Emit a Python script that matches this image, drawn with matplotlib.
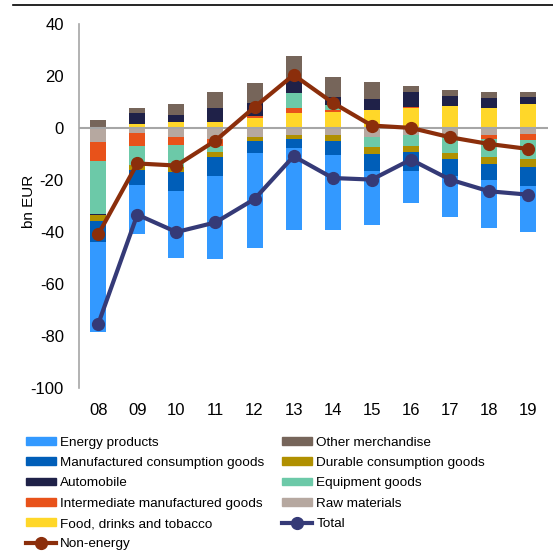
import matplotlib
matplotlib.use("Agg")
import matplotlib.pyplot as plt
from matplotlib.lines import Line2D
from matplotlib.patches import Patch
import numpy as np

plt.rcParams['font.family'] = ['Liberation Sans', 'DejaVu Sans']
plt.rcParams['axes.unicode_minus'] = False

years = ['08', '09', '10', '11', '12', '13', '14', '15', '16', '17', '18', '19']

# contributions, bn EUR
energy = [-34.5, -19.1, -25.5, -32.0, -36.3, -31.5, -28.9, -20.7, -12.3, -15.7, -18.4, -17.8]
other = [3.0, 1.9, 4.1, 6.2, 7.7, 8.6, 7.7, 6.4, 2.5, 2.2, 2.3, 2.0]
manufactured = [-8.0, -5.8, -7.4, -7.1, -4.8, -3.6, -5.4, -6.4, -7.1, -6.7, -6.0, -7.1]
durable = [-2.3, -1.9, -1.9, -1.9, -1.4, -1.5, -2.1, -2.6, -2.5, -2.3, -2.6, -3.2]
automobile = [-0.5, 4.1, 3.0, 5.5, 5.1, 5.6, 2.8, 4.4, 5.5, 3.9, 3.9, 2.6]
equipment = [-20.4, -7.3, -8.6, -2.6, 0.0, 5.8, 2.2, -3.9, -4.0, -6.4, -7.2, -7.1]
intermediate = [-7.4, -4.9, -2.9, -2.5, 0.6, 1.9, 0.5, 0.0, 0.6, 0.0, -1.3, -2.4]
raw = [-5.3, -1.9, -3.5, -4.2, -3.5, -2.6, -2.8, -3.5, -2.8, -3.2, -2.8, -2.3]
food = [0.0, 1.6, 2.2, 2.2, 3.9, 5.8, 6.4, 6.8, 7.7, 8.4, 7.7, 9.3]

total = [-75.4, -33.3, -40.0, -36.3, -27.3, -10.8, -19.2, -19.8, -12.1, -19.8, -24.3, -25.6]
non_energy = [-40.9, -13.6, -14.4, -4.8, 8.1, 20.5, 9.8, 1.0, 0.1, -3.5, -6.1, -8.0]

# stacked from the zero line outwards in this order
series = [
    ("Food, drinks and tobacco", food, '#FFD729'),
    ("Raw materials", raw, '#B6A8A0'),
    ("Intermediate manufactured goods", intermediate, '#E8521A'),
    ("Equipment goods", equipment, '#6CC9A8'),
    ("Automobile", automobile, '#1F2148'),
    ("Durable consumption goods", durable, '#B09000'),
    ("Manufactured consumption goods", manufactured, '#005EB8'),
    ("Other merchandise", other, '#76655A'),
    ("Energy products", energy, '#3399FF'),
]

fig = plt.figure(figsize=(5.53, 5.51), dpi=100)
ax = fig.add_axes([0.143, 0.296, 0.848, 0.66])

x = np.arange(len(years))
pos_base = np.zeros(len(years))
neg_base = np.zeros(len(years))
handles = {}
for name, vals, col in series:
    v = np.array(vals)
    bottom = np.where(v >= 0, pos_base, neg_base)
    ax.bar(x, v, 0.41, bottom=bottom, color=col, zorder=2)
    handles[name] = Patch(color=col)
    pos_base = pos_base + np.clip(v, 0, None)
    neg_base = neg_base + np.clip(v, None, 0)

ax.axhline(0, color='#A6A6A6', lw=1.5, zorder=2.5)

ax.plot(x, total, color='#353A77', lw=3, marker='o', ms=8.5, zorder=3)
ax.plot(x, non_energy, color='#8B2E0B', lw=3, marker='o', ms=8.5, zorder=4)
handles["Total"] = Line2D([], [], color='#353A77', lw=3, marker='o', ms=8.5)
handles["Non-energy"] = Line2D([], [], color='#8B2E0B', lw=3, marker='o', ms=8.5)

ax.set_xlim(-0.49, 11.51)
ax.set_ylim(-100, 40)
ax.set_yticks(range(-100, 41, 20))
ax.set_xticks(x)
ax.set_xticklabels(years)
ax.tick_params(axis='both', length=0, labelsize=12)
ax.tick_params(axis='y', pad=11)
ax.tick_params(axis='x', pad=11)
for s in ['top', 'right', 'bottom']:
    ax.spines[s].set_visible(False)
ax.spines['left'].set_color('#A6A6A6')
ax.spines['left'].set_linewidth(1.2)
ax.set_ylabel("bn EUR", fontsize=11)
ax.yaxis.set_label_coords(-0.092, 0.514)

# legend is filled row-wise in the reference, so order it column by column
order = ["Energy products", "Manufactured consumption goods", "Automobile",
         "Intermediate manufactured goods", "Food, drinks and tobacco", "Non-energy",
         "Other merchandise", "Durable consumption goods", "Equipment goods",
         "Raw materials", "Total"]
fig.legend([handles[k] for k in order], order, ncol=2, loc='upper left',
           bbox_to_anchor=(0.047, 0.2075), frameon=False, fontsize=9.7,
           handlelength=2.2, handleheight=0.5, handletextpad=0.35,
           columnspacing=1.3, labelspacing=0.62, borderpad=0, borderaxespad=0)

fig.add_artist(Line2D([0.0235, 1.0], [0.991, 0.991], color='black', lw=1.2))

fig.savefig("out.png", dpi=100)
